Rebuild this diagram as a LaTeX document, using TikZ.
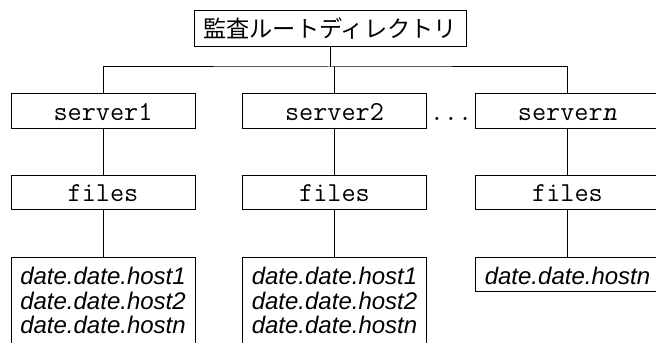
\documentclass[tikz,border=0pt]{standalone}
\usepackage{fontspec}
\setmainfont{Liberation Sans}
\newfontfamily\jpfont{Noto Sans CJK JP}
\begin{document}
\begin{tikzpicture}[x=0.5pt,y=-0.5pt,line width=0.5pt,
  box/.style={draw,anchor=north,inner xsep=0pt,inner ysep=0pt,minimum width=92pt,
    font=\fontsize{12}{12.25}\selectfont},
  srvbox/.style={box,text height=13.5pt,text depth=4pt,font=\fontsize{13.7}{14}\selectfont\ttfamily},
  filebox/.style={box,text height=13pt,text depth=4pt,font=\fontsize{13.7}{14}\selectfont\ttfamily},
  listbox/.style={box,text width=92pt,align=center,text height=13.5pt,
    font=\fontsize{12}{12.25}\selectfont\itshape}]
\useasboundingbox (0,0) rectangle (656,342);
\clip (0,0) rectangle (656,342);
\node[draw,anchor=north,inner xsep=0pt,inner ysep=0pt,minimum width=136pt,
  text height=13.5pt,text depth=4.5pt,font=\fontsize{11.6}{12}\selectfont\jpfont]
  (root) at (330,10) {監査ルートディレクトリ};
\coordinate (j) at (330,67);
\node[srvbox] (s1) at (103,93) {server1};
\node[srvbox] (s2) at (334.5,93) {server2};
\node[srvbox] (sn) at (567.5,93) {server\textsl{n}};
\node[anchor=base,inner sep=0pt,font=\fontsize{13.7}{14}\selectfont\ttfamily] (dots) at (451,120) {...};
\node[filebox] (f1) at (103,175) {files};
\node[filebox] (f2) at (334.5,175) {files};
\node[filebox] (fn) at (567.5,175) {files};
\node[listbox,text depth=60pt] (d1) at (103,257) {date.date.host1\\date.date.host2\\date.date.hostn};
\node[listbox,text depth=60pt] (d2) at (334.5,257) {date.date.host1\\date.date.host2\\date.date.hostn};
\node[listbox,text depth=3.5pt] (dn) at (567.5,257) {date.date.hostn};
\draw (root.south) -- (j);
\draw (s1.north) |- (j) -| (sn.north);
\draw (s2.north) -- (s2.north |- j);
\draw (s1) -- (f1);
\draw (s2) -- (f2);
\draw (sn) -- (fn);
\draw (f1) -- (d1);
\draw (f2) -- (d2);
\draw (fn) -- (dn);
\end{tikzpicture}
\end{document}
